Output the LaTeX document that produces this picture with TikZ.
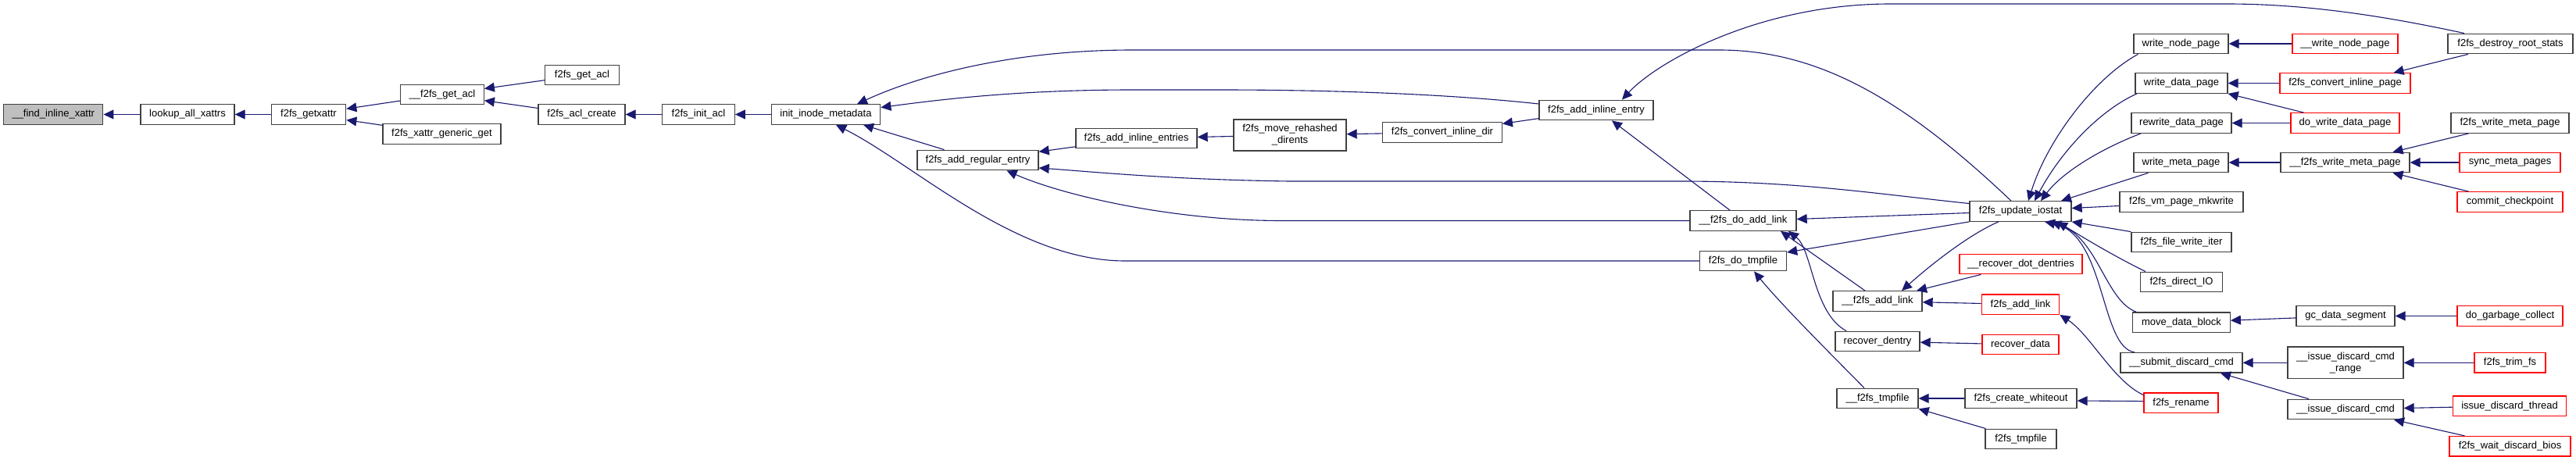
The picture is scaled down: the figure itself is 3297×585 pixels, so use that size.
\documentclass[tikz,border=0pt]{standalone}
\usepackage{fontspec}
\setmainfont{Liberation Sans}
\usetikzlibrary{arrows.meta}
\definecolor{EdgeBlue}{RGB}{25,25,112}
\definecolor{BoxGray}{RGB}{64,64,64}
\definecolor{HotRed}{RGB}{255,0,0}
\definecolor{RootFill}{RGB}{191,191,191}

\begin{document}
\begin{tikzpicture}[
    x=1pt, y=-1pt,
    fn/.style={draw=BoxGray, line width=1.3pt, fill=white, inner sep=0pt, align=center,
      minimum height=25.5pt, font=\fontsize{13}{15}\selectfont},
    hot/.style={fn, draw=HotRed},
    root/.style={fn, fill=RootFill},
    arr/.style={-{Triangle[length=13pt,width=12pt]}, line width=1.1pt, draw=EdgeBlue}
  ]
    \useasboundingbox (0,0) rectangle (3297,585);
    % left chain
    \node[root, minimum width=127pt] (find) at (68.3,146.5) {\_\_find\_inline\_xattr};
    \node[fn, minimum width=120pt] (lookup) at (240,146.5) {lookup\_all\_xattrs};
    \node[fn, minimum width=95.5pt] (getxattr) at (395,146.5) {f2fs\_getxattr};
    \node[fn, minimum width=106.5pt] (ugetacl) at (566,121) {\_\_f2fs\_get\_acl};
    \node[fn, minimum width=151pt] (xgeneric) at (565.5,171.5) {f2fs\_xattr\_generic\_get};
    \node[fn, minimum width=94.5pt] (getacl) at (745,96) {f2fs\_get\_acl};
    \node[fn, minimum width=111pt] (aclcreate) at (744.5,146.5) {f2fs\_acl\_create};
    \node[fn, minimum width=92.5pt] (initacl) at (894,146.5) {f2fs\_init\_acl};
    \node[fn, minimum width=139.5pt] (initmeta) at (1057,146.5) {init\_inode\_metadata};
    \node[fn, minimum width=155pt] (addreg) at (1251.5,205) {f2fs\_add\_regular\_entry};
    \node[fn, minimum width=155pt] (addinlines) at (1454.5,177) {f2fs\_add\_inline\_entries};
    \node[fn, minimum width=144pt, minimum height=40pt] (rehash) at (1651,173) {f2fs\_move\_rehashed\\\_dirents};
    \node[fn, minimum width=152.5pt] (convdir) at (1846,169.5) {f2fs\_convert\_inline\_dir};
    \node[fn, minimum width=146pt] (addinline) at (2043,141) {f2fs\_add\_inline\_entry};
    % middle
    \node[fn, minimum width=136pt] (udoaddlink) at (2231,282.5) {\_\_f2fs\_do\_add\_link};
    \node[fn, minimum width=130pt] (iostat) at (2586,270.5) {f2fs\_update\_iostat};
    \node[fn, minimum width=111pt] (dotmp) at (2231,334) {f2fs\_do\_tmpfile};
    \node[fn, minimum width=114pt] (uaddlink) at (2403,385.5) {\_\_f2fs\_add\_link};
    \node[hot, minimum width=157pt] (recdot) at (2586.5,338) {\_\_recover\_dot\_dentries};
    \node[hot, minimum width=99.5pt] (addlink) at (2586,389.6) {f2fs\_add\_link};
    \node[fn, minimum width=108pt] (recdentry) at (2403,437) {recover\_dentry};
    \node[hot, minimum width=98pt] (recdata) at (2586,441) {recover\_data};
    \node[fn, minimum width=104pt] (utmpfile) at (2403,510) {\_\_f2fs\_tmpfile};
    \node[fn, minimum width=143pt] (whiteout) at (2586.5,510) {f2fs\_create\_whiteout};
    \node[fn, minimum width=91pt] (tmpfile) at (2586.5,562) {f2fs\_tmpfile};
    % right columns
    \node[fn, minimum width=121pt] (wnode) at (2791.5,56) {write\_node\_page};
    \node[fn, minimum width=118pt] (wdata) at (2792,106.5) {write\_data\_page};
    \node[fn, minimum width=128pt] (rwdata) at (2792,157.5) {rewrite\_data\_page};
    \node[fn, minimum width=121pt] (wmeta) at (2791.5,208) {write\_meta\_page};
    \node[fn, minimum width=158pt] (vmmk) at (2792,258.5) {f2fs\_vm\_page\_mkwrite};
    \node[fn, minimum width=128pt] (fwiter) at (2792,310) {f2fs\_file\_write\_iter};
    \node[fn, minimum width=104.5pt] (dio) at (2792,361) {f2fs\_direct\_IO};
    \node[fn, minimum width=124.5pt] (mvblock) at (2792,412.6) {move\_data\_block};
    \node[fn, minimum width=156pt] (subdisc) at (2792,464.3) {\_\_submit\_discard\_cmd};
    \node[hot, minimum width=95pt] (rename) at (2791.5,515.6) {f2fs\_rename};
    \node[hot, minimum width=135pt] (uwnode) at (3001.5,56) {\_\_write\_node\_page};
    \node[hot, minimum width=167pt] (convpage) at (3001.5,106.5) {f2fs\_convert\_inline\_page};
    \node[hot, minimum width=139pt] (dowdata) at (3001.5,157.5) {do\_write\_data\_page};
    \node[fn, minimum width=165pt] (uwmeta) at (3001.5,208) {\_\_f2fs\_write\_meta\_page};
    \node[fn, minimum width=126pt] (gcdata) at (3002,404.5) {gc\_data\_segment};
    \node[fn, minimum width=148pt, minimum height=40.5pt] (discrange) at (3002,464.3) {\_\_issue\_discard\_cmd\\\_range};
    \node[fn, minimum width=148pt] (issuedisc) at (3002,524) {\_\_issue\_discard\_cmd};
    \node[fn, minimum width=160pt] (destroy) at (3213,56) {f2fs\_destroy\_root\_stats};
    \node[fn, minimum width=151pt] (fwmeta) at (3212.5,157.5) {f2fs\_write\_meta\_page};
    \node[hot, minimum width=129pt] (syncmeta) at (3212.5,208) {sync\_meta\_pages};
    \node[hot, minimum width=135pt] (commit) at (3212.5,258.5) {commit\_checkpoint};
    \node[hot, minimum width=135pt] (gc) at (3212.5,404.5) {do\_garbage\_collect};
    \node[hot, minimum width=91pt] (trim) at (3212.5,464.3) {f2fs\_trim\_fs};
    \node[hot, minimum width=145.5pt] (disthread) at (3212,519.7) {issue\_discard\_thread};
    \node[hot, minimum width=155pt] (waitdisc) at (3212.5,571.3) {f2fs\_wait\_discard\_bios};
    % edges, left part
    \draw[arr] (lookup) -- (find);
    \draw[arr] (getxattr) -- (lookup);
    \draw[arr] (ugetacl) -- (getxattr);
    \draw[arr] (xgeneric) -- (getxattr);
    \draw[arr] (getacl) -- (ugetacl);
    \draw[arr] (aclcreate) -- (ugetacl);
    \draw[arr] (initacl) -- (aclcreate);
    \draw[arr] (initmeta) -- (initacl);
    \draw[arr] ([xshift=-12pt]iostat.north) .. controls (2440,130) and (2330,64) .. (2200,64) -- (1450,64) .. controls (1300,64) and (1180,95) .. ([xshift=40pt]initmeta.north);
    \draw[arr] ([yshift=8pt]addinline.west) .. controls (1850,120) and (1700,115) .. (1560,115) -- (1450,115) .. controls (1300,115) and (1200,128) .. ([yshift=9pt]initmeta.east);
    \draw[arr] ([xshift=-43pt]addreg.north) -- ([xshift=48pt]initmeta.south);
    \draw[arr] (dotmp.west) -- (1440,334) .. controls (1300,334) and (1170,210) .. ([xshift=13pt]initmeta.south);
    \draw[arr] (addinlines) -- (addreg);
    \draw[arr] ([yshift=10pt]iostat.west) .. controls (2400,248) and (2300,232) .. (2150,232) -- (1650,232) .. controls (1500,230) and (1400,220) .. ([yshift=-10pt]addreg.east);
    \draw[arr] (udoaddlink.west) -- (1640,282.5) .. controls (1500,282.5) and (1360,250) .. ([xshift=37pt]addreg.south);
    \draw[arr] (rehash) -- (addinlines);
    \draw[arr] (convdir) -- (rehash);
    \draw[arr] (addinline) -- (convdir);
    \draw[arr] ([xshift=-59pt]destroy.north) .. controls (3050,20) and (2950,5) .. (2850,5) -- (2420,5) .. controls (2250,5) and (2120,80) .. ([xshift=33pt]addinline.north);
    \draw[arr] ([xshift=-17pt]udoaddlink.north) -- ([xshift=20pt]addinline.south);
    % edges, middle part
    \draw[arr] ([yshift=-2pt]iostat.west) -- ([yshift=2pt]udoaddlink.east);
    \draw[arr] (iostat.south west) -- ([yshift=11pt]dotmp.east);
    \draw[arr] ([xshift=-28pt]iostat.south) .. controls (2520,300) and (2470,340) .. ([xshift=31pt]uaddlink.north);
    \draw[arr] ([xshift=-16pt]uaddlink.north) -- ([xshift=48pt]udoaddlink.south);
    \draw[arr] ([xshift=-40pt]recdentry.north) .. controls (2320,400) and (2320,320) .. ([xshift=58pt]udoaddlink.south);
    \draw[arr] ([xshift=-17pt]utmpfile.north) .. controls (2340,450) and (2280,390) .. ([xshift=14pt]dotmp.south);
    \draw[arr] ([xshift=-51pt]recdot.south) -- ([xshift=50pt]uaddlink.north);
    \draw[arr] (addlink) -- (uaddlink);
    \draw[arr] (recdata) -- (recdentry);
    \draw[arr] (whiteout) -- (utmpfile);
    \draw[arr] ([xshift=-45pt]tmpfile.north) -- (utmpfile.south east);
    \draw[arr] ([yshift=10pt]rename.west) .. controls (2705,488) and (2675,428) .. (addlink.south east);
    \draw[arr] ([yshift=2pt]rename.west) -- ([yshift=-3pt]whiteout.east);
    % callers of f2fs_update_iostat
    \draw[arr] ([xshift=-55pt]wnode.south) .. controls (2680,100) and (2620,180) .. ([xshift=10pt]iostat.north);
    \draw[arr] ([xshift=-57pt]wdata.south) .. controls (2690,140) and (2640,190) .. ([xshift=18pt]iostat.north);
    \draw[arr] ([xshift=-52pt]rwdata.south) .. controls (2690,190) and (2640,220) .. ([xshift=26pt]iostat.north);
    \draw[arr] ([xshift=-42pt]wmeta.south) -- ([xshift=52pt]iostat.north);
    \draw[arr] ([yshift=-5pt]vmmk.west) -- ([yshift=4pt]iostat.east);
    \draw[arr] (fwiter.north west) -- (iostat.south east);
    \draw[arr] ([xshift=-46pt]dio.north) .. controls (2700,325) and (2660,300) .. ([xshift=47pt]iostat.south);
    \draw[arr] ([xshift=-58pt]mvblock.north) .. controls (2695,385) and (2685,305) .. ([xshift=39pt]iostat.south);
    \draw[arr] ([xshift=-60pt]subdisc.north) .. controls (2688,445) and (2695,300) .. ([xshift=31pt]iostat.south);
    % edges, right part
    \draw[arr] (uwnode) -- (wnode);
    \draw[arr] (convpage) -- (wdata);
    \draw[arr] ([xshift=-53pt]dowdata.north) -- (wdata.south east);
    \draw[arr] (dowdata) -- (rwdata);
    \draw[arr] ([xshift=-54pt]destroy.south) -- ([xshift=62pt]convpage.north);
    \draw[arr] (uwmeta) -- (wmeta);
    \draw[arr] ([xshift=-53pt]fwmeta.south) -- ([xshift=61pt]uwmeta.north);
    \draw[arr] (syncmeta) -- (uwmeta);
    \draw[arr] ([xshift=-53pt]commit.north) -- ([xshift=61pt]uwmeta.south);
    \draw[arr] (gcdata) -- (mvblock);
    \draw[arr] (gc) -- (gcdata);
    \draw[arr] (discrange) -- (subdisc);
    \draw[arr] ([xshift=-47pt]issuedisc.north) -- ([xshift=50pt]subdisc.south);
    \draw[arr] (trim) -- (discrange);
    \draw[arr] (disthread) -- (issuedisc);
    \draw[arr] ([xshift=-58pt]waitdisc.north) -- ([xshift=62pt]issuedisc.south);
  \end{tikzpicture}
\end{document}
